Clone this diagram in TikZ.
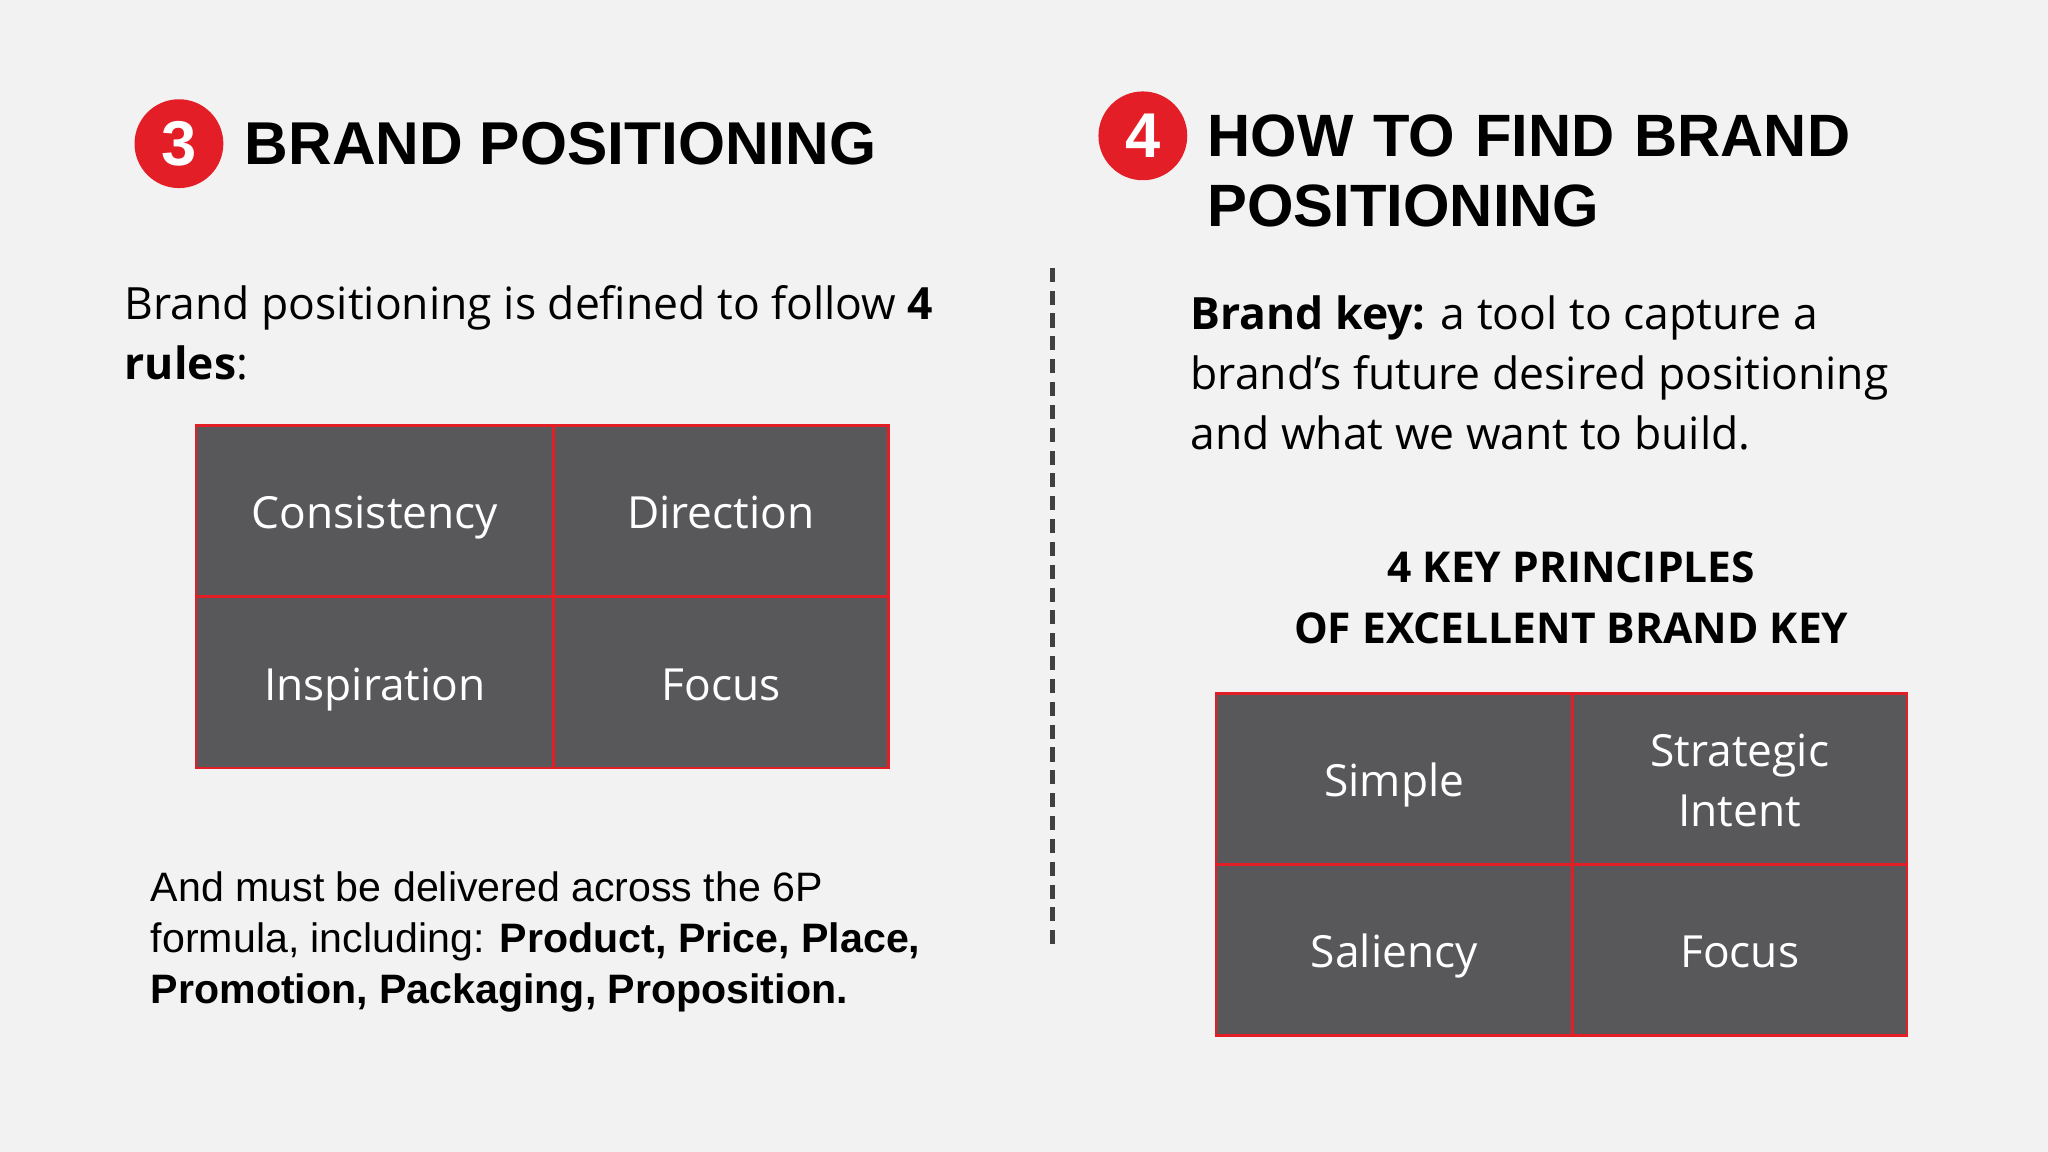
\documentclass[tikz,border=0pt]{standalone}
\usepackage{fontspec}
\setmainfont{Open Sans}
\newfontfamily\arialf{Liberation Sans}
\definecolor{bg}{HTML}{F2F2F3}
\definecolor{brred}{HTML}{E41E26}
\definecolor{cellg}{HTML}{58585A}
\begin{document}
\begin{tikzpicture}[x=0.013061cm,y=-0.013061cm,
  cell/.style={draw=brred,fill=cellg,line width=0.8pt,minimum width=#1*0.013061cm,minimum height=131*0.013061cm,inner sep=0pt,text=white,font=\fontsize{12.6}{17}\selectfont,align=center,text height=11pt,text depth=1pt},
  badge/.style={circle,fill=brred,minimum size=68*0.013061cm,inner sep=0pt,text=white,font=\arialf\bfseries\fontsize{18}{18}\selectfont},
  title/.style={anchor=west,font=\arialf\bfseries\fontsize{17.2}{20}\selectfont,align=left,inner sep=0pt},
  body/.style={anchor=north west,font=\fontsize{12.65}{17}\selectfont,align=left,inner sep=0pt}]
\fill[bg] (0,0) rectangle (1568,882);
\node[badge] (b3) at (137,110) {3};
\node[title] (t3) at (187,110) {BRAND POSITIONING};
\node[badge] (b4) at (875,104) {4};
\node[title,anchor=north west,font=\arialf\bfseries\fontsize{17}{20}\selectfont,text width=600*0.013061cm] (t4) at (924,87) {HOW TO FIND BRAND\\POSITIONING};
\coordinate (d1) at (806,205); \coordinate (d2) at (806,728);
\draw[line width=1.3pt,dash pattern=on 4pt off 2.5pt,black!75] (d1) -- (d2);
\node[body] (p1) at (95,218) {Brand positioning is defined to follow \textbf{4}\\\textbf{rules}:};
\node[body] (p2) at (911,226) {\textbf{Brand key:} a tool to capture a\\brand’s future desired positioning\\and what we want to build.};
\node[font=\bfseries\fontsize{12.1}{17.3}\selectfont,align=center,inner sep=0pt] (kp) at (1203,458) {4 KEY PRINCIPLES\\OF EXCELLENT BRAND KEY};
\node[cell=274] (c1) at (287,391.5) {Consistency};
\node[cell=256] (c2) at (552,391.5) {Direction};
\node[cell=274] (c3) at (287,522.5) {Inspiration};
\node[cell=256] (c4) at (552,522.5) {Focus};
\node[cell=273] (r1) at (1067.5,596.5) {Simple};
\node[cell=256,text height=28pt] (r2) at (1332,596.5) {Strategic\\Intent};
\node[cell=273] (r3) at (1067.5,727.5) {Saliency};
\node[cell=256] (r4) at (1332,727.5) {Focus};
\node[body,font=\arialf\fontsize{11.7}{14.5}\selectfont] (p3) at (115,667) {And must be delivered across the 6P\\formula, including: \textbf{Product, Price, Place,}\\\textbf{Promotion, Packaging, Proposition.}};
\end{tikzpicture}
\end{document}
